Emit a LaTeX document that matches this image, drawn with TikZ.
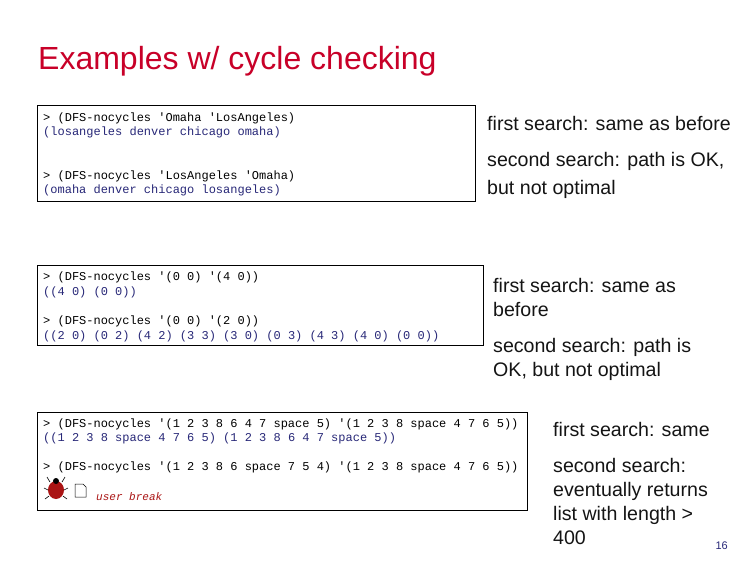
\documentclass[tikz,border=0pt]{standalone}
\usepackage{fontspec}
\setmainfont{Liberation Sans}
\setmonofont{Liberation Mono}
\definecolor{titlered}{RGB}{200,0,40}
\definecolor{outblue}{RGB}{40,40,120}
\definecolor{txt}{RGB}{20,20,20}
\definecolor{bugred}{RGB}{170,20,20}
\begin{document}
\begin{tikzpicture}[x=1pt,y=-1pt,
  code/.style={anchor=base west,inner sep=0,font=\fontsize{12}{14}\ttfamily},
  outp/.style={code,text=outblue},
  note/.style={anchor=base west,inner sep=0,font=\fontsize{19.6}{22}\selectfont,text=txt},
  box/.style={draw=black,line width=1pt,fill=white}]
\useasboundingbox (0,0) rectangle (756,576);
\node[anchor=base west,inner sep=0,text=titlered,font=\fontsize{32}{36}\selectfont] (title) at (38,69) {Examples w/ cycle checking};
% box 1
\draw[box] (37,105) rectangle (475,201);
\node[code] (c1) at (43,121) {> (DFS-nocycles 'Omaha 'LosAngeles)};
\node[outp] (o1) at (43,135) {(losangeles denver chicago omaha)};
\node[code] (c2) at (43,179) {> (DFS-nocycles 'LosAngeles 'Omaha)};
\node[outp] (o2) at (43,193) {(omaha denver chicago losangeles)};
\node[note] (n1) at (487,130) {first search: same as before};
\node[note] (n2a) at (487,166) {second search: path is OK,};
\node[note] (n2b) at (487,194) {but not optimal};
% box 2
\draw[box] (37,265) rectangle (483,345);
\node[code] (c3) at (43,280) {> (DFS-nocycles '(0 0) '(4 0))};
\node[outp] (o3) at (43,295) {((4 0) (0 0))};
\node[code] (c4) at (43,324) {> (DFS-nocycles '(0 0) '(2 0))};
\node[outp] (o4) at (43,339) {((2 0) (0 2) (4 2) (3 3) (3 0) (0 3) (4 3) (4 0) (0 0))};
\node[note] (n3a) at (493,292) {first search: same as};
\node[note] (n3b) at (493,316) {before};
\node[note] (n4a) at (493,352) {second search: path is};
\node[note] (n4b) at (493,376) {OK, but not optimal};
% box 3
\draw[box] (37,412) rectangle (527,510);
\node[code] (c5) at (43,427) {> (DFS-nocycles '(1 2 3 8 6 4 7 space 5) '(1 2 3 8 space 4 7 6 5))};
\node[outp] (o5) at (43,441) {((1 2 3 8 space 4 7 6 5) (1 2 3 8 6 4 7 space 5))};
\node[code] (c6) at (43,470) {> (DFS-nocycles '(1 2 3 8 6 space 7 5 4) '(1 2 3 8 space 4 7 6 5))};
% bug icon
\fill[bugred] (56,490) ellipse (8 and 9);
\draw[black,line width=0.6pt] (50,482)--(47,477) (62,482)--(65,477) (48,490)--(44,488) (64,490)--(68,488) (49,496)--(45,499) (63,496)--(67,499);
\fill[black] (56,481) circle (3);
\draw[black,line width=0.5pt,fill=white] (75,484)--(83,484)--(86,487)--(86,497)--(75,497)--cycle;
\node[code,text=bugred,font=\fontsize{11}{12}\ttfamily\itshape] (ub) at (96,500) {user break};
\node[note] (n5) at (553,436) {first search: same};
\node[note] (n6a) at (553,472) {second search:};
\node[note] (n6b) at (553,496) {eventually returns};
\node[note] (n6c) at (553,520) {list with length >};
\node[note] (n6d) at (553,544) {400};
\node[anchor=base east,inner sep=0,font=\fontsize{11}{13}\selectfont,text=outblue] (pg) at (728,549) {16};
\end{tikzpicture}
\end{document}
